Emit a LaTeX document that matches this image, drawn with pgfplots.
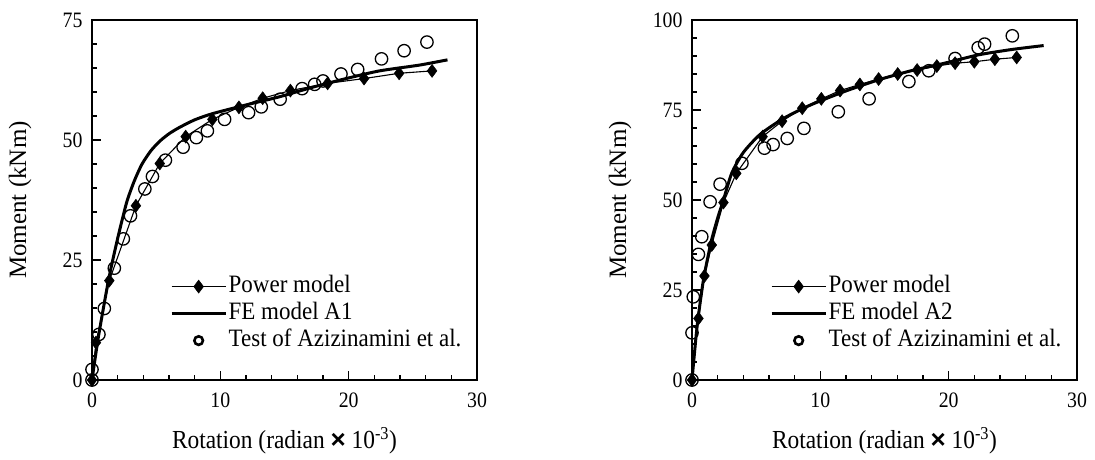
\documentclass[border=0pt]{standalone}
\usepackage{fontspec}
\setmainfont{Liberation Serif}
\newfontfamily\condfont[FakeStretch=0.9]{Liberation Serif}
\newfontfamily\legfont[FakeStretch=0.92]{Liberation Serif}
\usepackage{pgfplots}
\usepackage{pgfplotstable}
\pgfplotsset{compat=1.18}

\pgfplotstableread{
x y
0 0
0 2.2
0.54 9.5
0.96 14.9
1.74 23.3
2.44 29.4
3.0 34.2
4.12 39.8
4.71 42.4
5.72 45.8
7.10 48.5
8.13 50.5
8.99 51.9
10.33 54.3
12.2 55.7
13.19 56.9
14.66 58.5
16.37 60.7
17.35 61.6
18.0 62.3
19.4 63.75
20.7 64.7
22.56 66.9
24.32 68.6
26.1 70.4
}\testA
\pgfplotstableread{
x y
0 0
0.31 7.8
1.35 20.7
3.42 36.3
5.28 45.1
7.3 50.7
9.38 54.3
11.45 56.8
13.3 58.7
15.46 60.3
18.36 61.8
21.2 62.8
23.93 63.9
26.5 64.4
}\powerA
\pgfplotstableread{
x y
0 0
0.5 9
1.3 21
2.0 29.5
2.7 37
3.3 41.5
3.9 45
4.6 47.8
5.3 49.8
6.0 51.3
6.8 52.6
8.0 54.2
9.4 55.5
12 57.3
14.6 59
17.2 61
19.8 62.8
22.4 64.4
25.5 65.6
27.7 66.7
}\feA
\pgfplotstableread{
x y
0 0
0 13.1
0.1 23.1
0.5 34.9
0.76 39.8
1.41 49.5
2.19 54.4
3.89 60.2
5.64 64.4
6.32 65.4
7.42 67.1
8.72 69.9
11.4 74.5
13.8 78.1
16.9 82.9
18.45 85.9
20.5 89.3
22.3 92.3
22.8 93.3
24.96 95.6
}\testB
\pgfplotstableread{
x y
0 0
0.5 17.1
0.97 28.9
1.54 37.5
2.45 49.3
3.45 57.4
5.5 67.6
7.02 71.9
8.59 75.5
10.08 78.1
11.54 80.4
13.08 82.1
14.54 83.6
16.03 85.0
17.54 86.1
19.08 87.2
20.5 88.0
22.0 88.4
23.6 89.1
25.3 89.6
}\powerB
\pgfplotstableread{
x y
0 0
0.4 15
0.9 28
1.5 38.5
2.0 45
2.45 50
3.1 57.5
4.0 63.2
5.3 68.2
7.15 72.7
9.24 76.4
11.85 80.1
14.46 83.3
17.07 85.9
19.68 88.0
22.3 90.3
24.9 91.8
27.4 92.9
}\feB

\pgfplotsset{
  momstyle/.style={
    scale only axis, width=385pt, height=360pt,
    xmin=0, xmax=30, xtick={0,10,20,30}, minor x tick num=4,
    minor y tick num=4,
    tick align=inside, tick pos=left,
    major tick length=9pt, minor tick length=5pt,
    every tick/.style={black, line width=1.2pt},
    axis line style={line width=1.8pt},
    tick label style={font=\fontsize{22}{24}\selectfont\condfont},
    /pgf/number format/assume math mode=true,
    xticklabel style={yshift=-9pt},
    yticklabel style={xshift=-6pt},
    xlabel={Rotation (radian {\fontspec{Liberation Sans}\bfseries ×} 10\textsuperscript{-3})},
    ylabel={Moment (kNm)},
    xlabel style={font=\fontsize{26}{28}\selectfont\condfont, at={(axis description cs:0.5,-0.169)}, anchor=center},
    ylabel style={font=\fontsize{25}{27}\selectfont, at={(axis description cs:-0.187,0.5)}, anchor=center},
    clip=false,
    legend cell align=left,
    legend style={draw=none, fill=none, inner sep=0pt, outer sep=0pt,
      font=\fontsize{25}{27}\selectfont\legfont,
      at={(axis description cs:0.203,0.297)}, anchor=north west,
      row sep=0pt, nodes={inner sep=1.5pt, text height=17.5pt, text depth=6.5pt}},
  },
  pwr/.style={black, line width=1.1pt, mark=diamond*, mark size=6.5pt,
    mark options={solid, fill=black, line width=0.5pt},
    legend image code/.code={\draw[mark repeat=2,mark phase=2,##1] plot coordinates {(0pt,0pt)(27pt,0pt)(54pt,0pt)};}},
  fe/.style={black, line width=3pt, no markers, smooth, tension=0.4,
    legend image code/.code={\draw[##1] (0pt,0pt) -- (54pt,0pt);}},
  tst/.style={black, only marks, mark=o, mark size=6.2pt, mark options={line width=1.3pt},
    legend image code/.code={\draw[black, line width=2.6pt] (27pt,0pt) circle (4.3pt);}},
}

\begin{document}
\begin{tikzpicture}
\path[use as bounding box] (0,0) rectangle (1095pt,459pt);
\begin{axis}[momstyle, at={(92pt,79pt)}, anchor=south west,
  ymin=0, ymax=75, ytick={0,25,50,75}]
\addplot[pwr] table[x=x,y=y] {\powerA};
\addlegendentry{Power model}
\addplot[fe] table[x=x,y=y] {\feA};
\addlegendentry{FE model A1}
\addplot[tst] table[x=x,y=y] {\testA};
\addlegendentry{Test of Azizinamini et al.}
\end{axis}
\begin{axis}[momstyle, at={(692pt,79pt)}, anchor=south west,
  ymin=0, ymax=100, ytick={0,25,50,75,100}]
\addplot[pwr] table[x=x,y=y] {\powerB};
\addlegendentry{Power model}
\addplot[fe] table[x=x,y=y] {\feB};
\addlegendentry{FE model A2}
\addplot[tst] table[x=x,y=y] {\testB};
\addlegendentry{Test of Azizinamini et al.}
\end{axis}
\end{tikzpicture}
\end{document}
